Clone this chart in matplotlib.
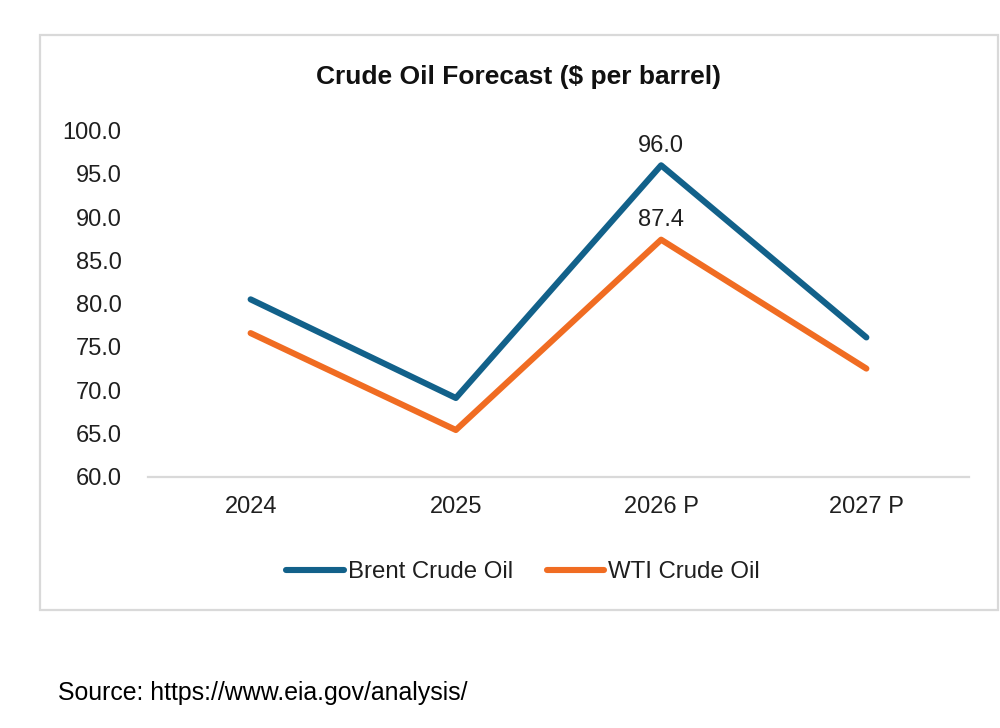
"""Crude oil forecast line chart (Brent vs WTI, $ per barrel)."""

import matplotlib

matplotlib.use("Agg")
import matplotlib.pyplot as plt
from matplotlib.patches import Rectangle

YEARS = ["2024", "2025", "2026 P", "2027 P"]
BRENT = [80.5, 69.1, 96.0, 76.1]
WTI = [76.6, 65.4, 87.4, 72.5]
LABELLED_INDEX = 2  # only the 2026 P points carry value labels
Y_TICKS = [60.0, 65.0, 70.0, 75.0, 80.0, 85.0, 90.0, 95.0, 100.0]

BRENT_COLOUR = "#12618a"
WTI_COLOUR = "#f06c22"
GRID_GREY = "#d9d9d9"
TEXT_COLOUR = "#1f1f1f"

plt.rcParams["font.family"] = ["Liberation Sans", "DejaVu Sans"]

fig = plt.figure(figsize=(10.0, 7.28), dpi=100)
W, H = 1000.0, 728.0

# light grey chart frame
frame = Rectangle(
    (40 / W, 1 - 610 / H),
    958 / W,
    575 / H,
    transform=fig.transFigure,
    fill=False,
    edgecolor=GRID_GREY,
    linewidth=1.6,
)
fig.add_artist(frame)

ax = fig.add_axes((148 / W, 1 - 476.7 / H, 821 / W, 346 / H))
x = list(range(len(YEARS)))
ax.plot(x, BRENT, color=BRENT_COLOUR, linewidth=4.4, solid_capstyle="round",
        solid_joinstyle="round", label="Brent Crude Oil")
ax.plot(x, WTI, color=WTI_COLOUR, linewidth=4.4, solid_capstyle="round",
        solid_joinstyle="round", label="WTI Crude Oil")

for series in (BRENT, WTI):
    ax.annotate(
        f"{series[LABELLED_INDEX]:.1f}",
        xy=(LABELLED_INDEX, series[LABELLED_INDEX]),
        xytext=(0, 6),
        textcoords="offset points",
        ha="center",
        va="bottom",
        fontsize=17,
        color=TEXT_COLOUR,
    )

ax.set_xlim(-0.5, len(YEARS) - 0.5)
ax.set_ylim(60, 100)
ax.set_yticks(Y_TICKS)
ax.set_yticklabels([f"{v:.1f}" for v in Y_TICKS])
ax.set_xticks(x)
ax.set_xticklabels(YEARS)
ax.tick_params(axis="both", length=0, labelsize=17, colors=TEXT_COLOUR)
ax.tick_params(axis="y", pad=19)
ax.tick_params(axis="x", pad=14)
for side in ("top", "right", "left"):
    ax.spines[side].set_visible(False)
ax.spines["bottom"].set_color(GRID_GREY)
ax.spines["bottom"].set_linewidth(1.6)

fig.text(519 / W, 1 - 77 / H, "Crude Oil Forecast ($ per barrel)", ha="center",
         va="center", fontsize=19, fontweight="bold", color="#111111")

ax.legend(
    loc="center",
    bbox_to_anchor=(523 / W, 1 - 572 / H),
    bbox_transform=fig.transFigure,
    ncol=2,
    frameon=False,
    fontsize=17.3,
    handlelength=2.4,
    handletextpad=0.15,
    columnspacing=1.4,
    labelcolor=TEXT_COLOUR,
)

fig.text(58 / W, 1 - 693 / H, "Source: https://www.eia.gov/analysis/", ha="left",
         va="center", fontsize=17.9, color="black")

fig.savefig("out.png", dpi=100)
